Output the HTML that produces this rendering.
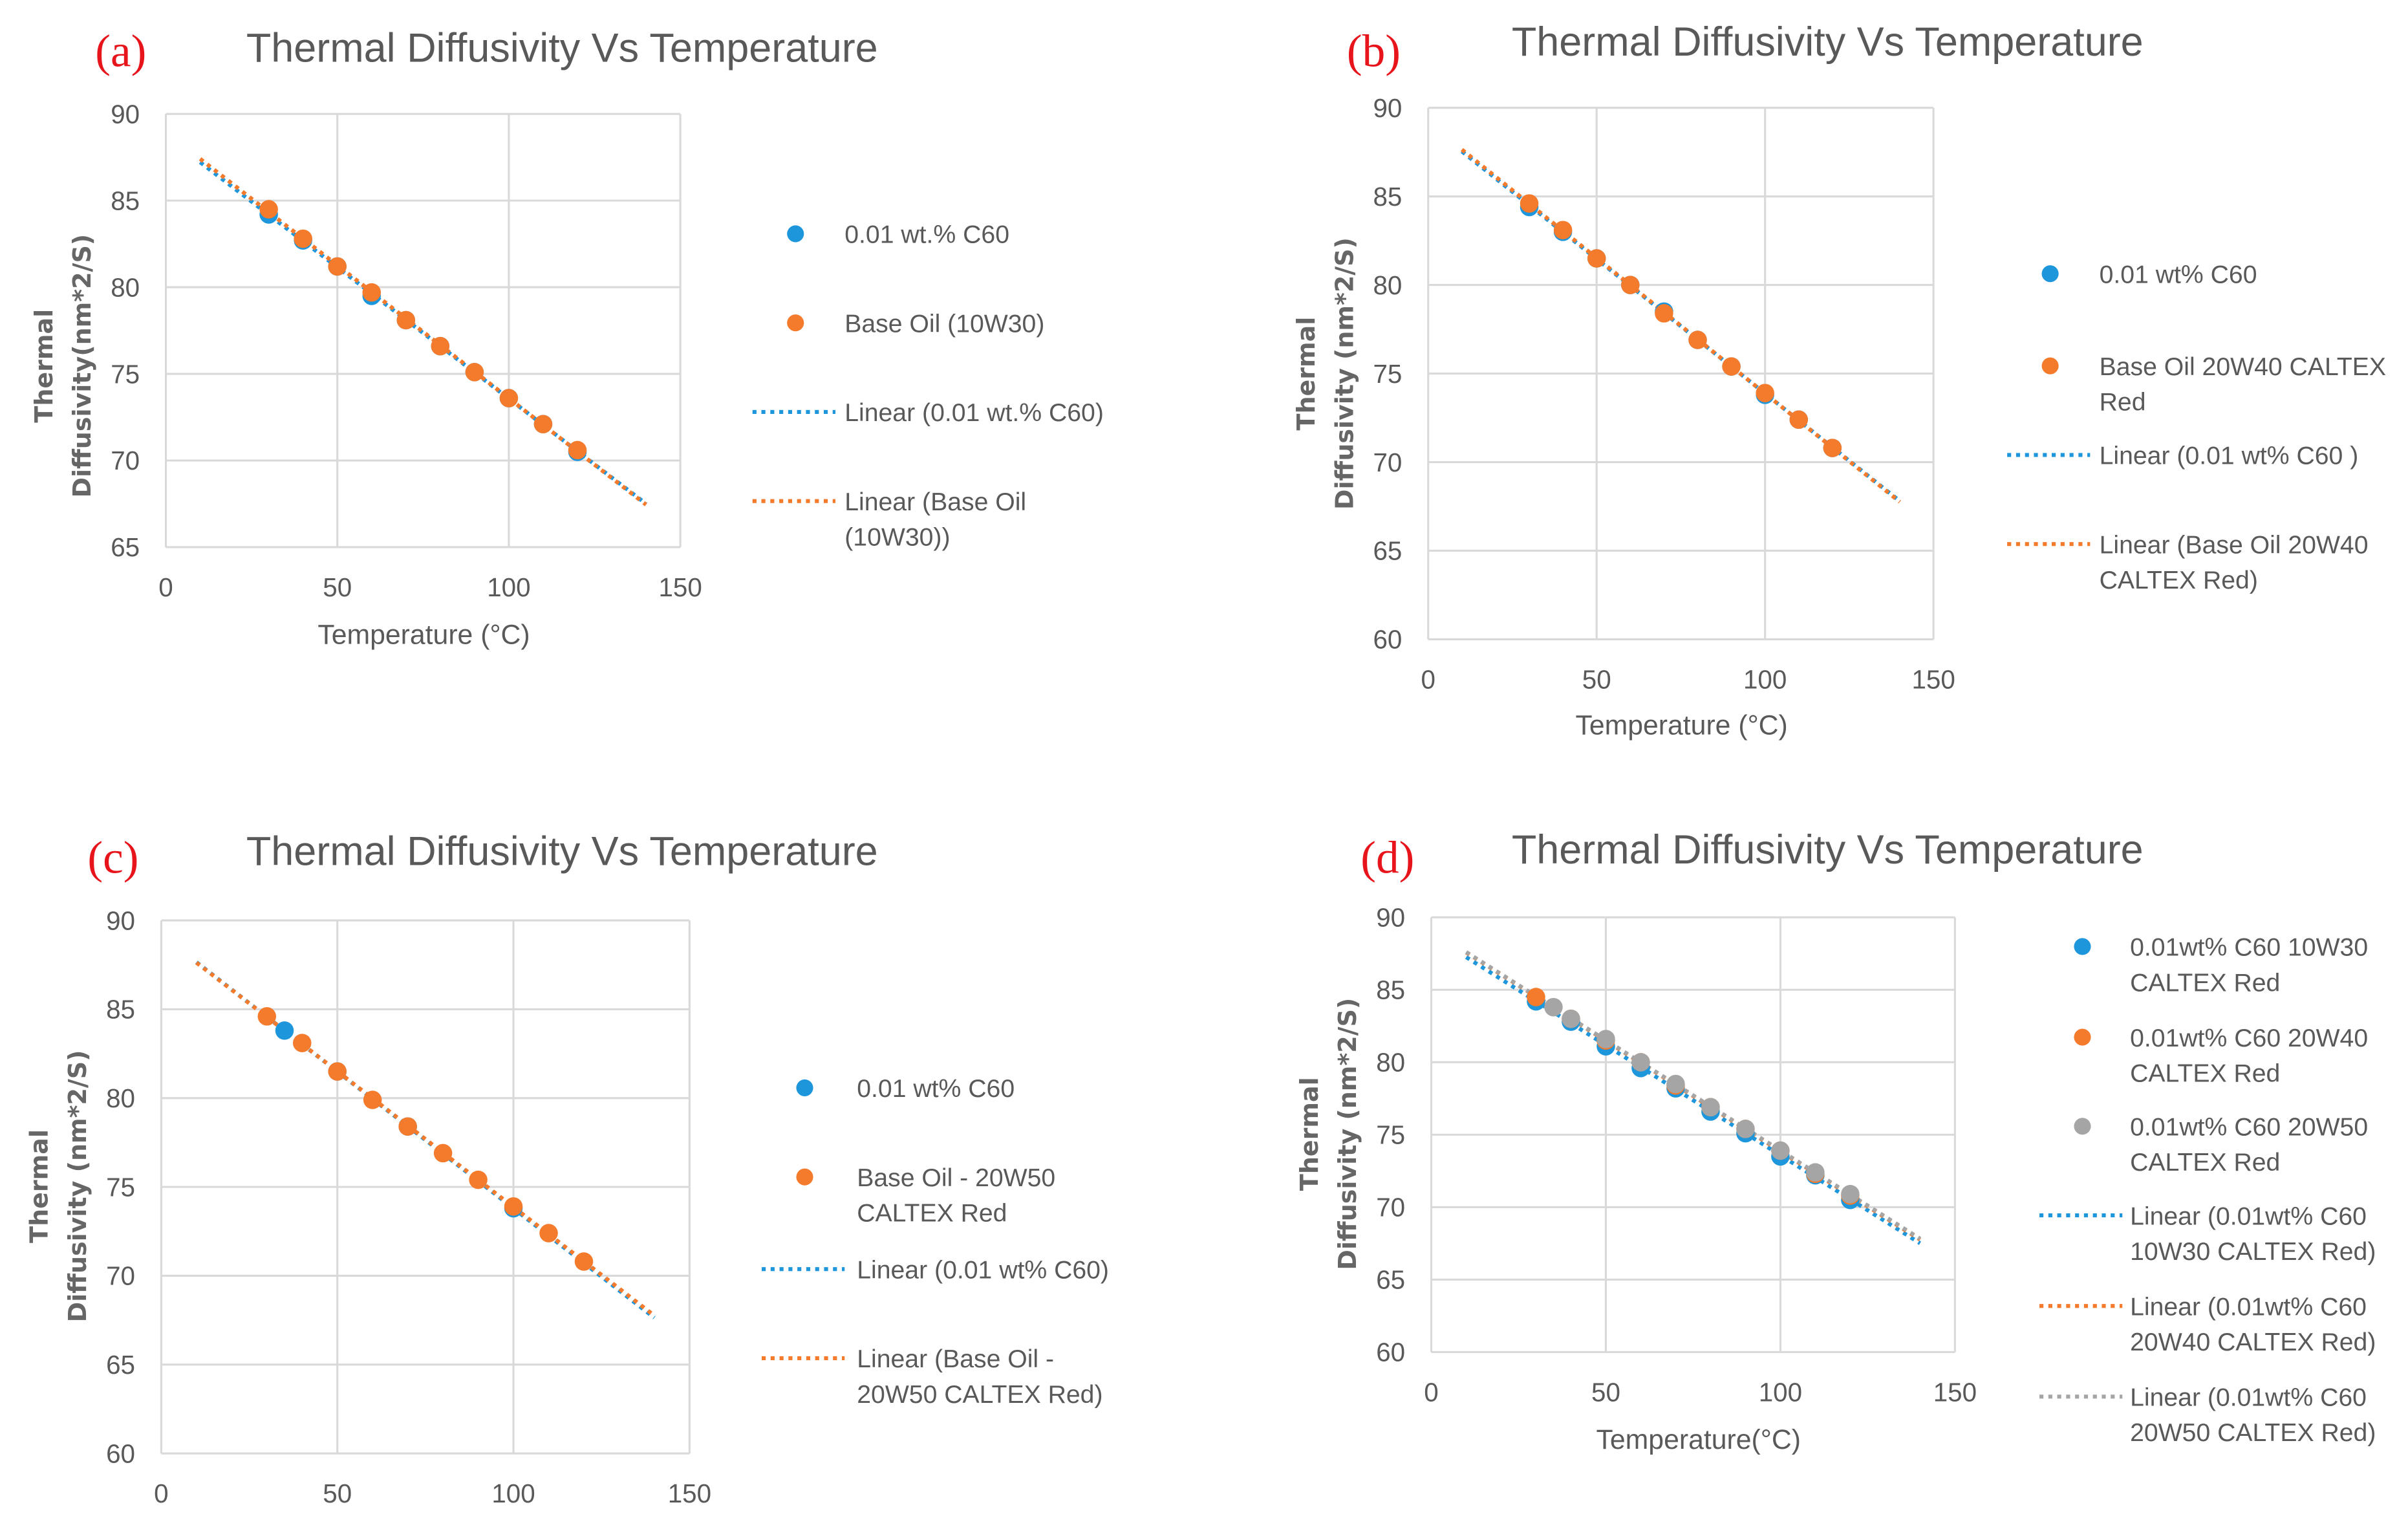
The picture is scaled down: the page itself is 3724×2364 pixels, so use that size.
<!DOCTYPE html>
<html><head><meta charset="utf-8">
<style>
html,body{margin:0;padding:0;background:#fff;}
svg{display:block;}
text{font-family:"Liberation Sans Narrow","Liberation Sans",sans-serif;fill:#595959;}
.tt{font-size:26.5px;}
.tk{font-size:17px;}
.xt{font-size:18px;}
.lg{font-size:16.5px;}
.yt{font-family:"DejaVu Sans","Liberation Sans",sans-serif;font-size:16px;font-weight:bold;fill:#666;}
.pl{font-family:"Liberation Serif",serif;font-size:30px;fill:#e8141b;}
</style></head>
<body>
<svg id="fig" width="3724" height="2364" viewBox="0 0 1568 995" xmlns="http://www.w3.org/2000/svg"></svg>
<script>
// ---- data ----
const xTicks = [0, 50, 100, 150];
const tempsA = [30, 40, 50, 60, 70, 80, 90, 100, 110, 120];
const blueA = [84.2, 82.7, 81.2, 79.5, 78.1, 76.6, 75.1, 73.6, 72.1, 70.5];
const orangeA = [84.5, 82.8, 81.2, 79.7, 78.1, 76.6, 75.1, 73.6, 72.1, 70.6];
const yTicksA = [65, 70, 75, 80, 85, 90];

const tempsB = [30, 40, 50, 60, 70, 80, 90, 100, 110, 120];
const blueB = [84.4, 83.0, 81.5, 80.0, 78.5, 76.9, 75.4, 73.8, 72.4, 70.8];
const orangeB = [84.6, 83.1, 81.5, 80.0, 78.4, 76.9, 75.4, 73.9, 72.4, 70.8];
const yTicksB = [60, 65, 70, 75, 80, 85, 90];

const tempsBlueC = [35, 50, 70, 100];
const blueC = [83.8, 81.5, 78.4, 73.8];
const tempsC = [30, 40, 50, 60, 70, 80, 90, 100, 110, 120];
const orangeC = [84.6, 83.1, 81.5, 79.9, 78.4, 76.9, 75.4, 73.9, 72.4, 70.8];
const yTicksC = [60, 65, 70, 75, 80, 85, 90];

const tempsD = [30, 40, 50, 60, 70, 80, 90, 100, 110, 120];
const blueD = [84.2, 82.8, 81.1, 79.6, 78.2, 76.6, 75.1, 73.5, 72.2, 70.5];
const orangeD = [84.5, 83.0, 81.5, 80.0, 78.4, 76.9, 75.4, 73.9, 72.3, 70.8];
const tempsGrayD = [35, 40, 50, 60, 70, 80, 90, 100, 110, 120];
const grayD = [83.8, 83.0, 81.6, 80.0, 78.5, 76.9, 75.4, 73.9, 72.4, 70.9];
const yTicksD = [60, 65, 70, 75, 80, 85, 90];

const BLUE = "#1e96dc", ORANGE = "#f47a2c", GRAY = "#a5a5a5";
const svg = document.getElementById("fig");
const NS = "http://www.w3.org/2000/svg";
function mk(tag, attrs, parent, txt) {
  const e = document.createElementNS(NS, tag);
  for (const k in attrs) e.setAttribute(k, attrs[k]);
  if (txt !== undefined) e.textContent = txt;
  (parent || svg).appendChild(e);
  return e;
}
function fit(xs, ys) {
  const n = xs.length; let sx = 0, sy = 0, sxx = 0, sxy = 0;
  for (let i = 0; i < n; i++) { sx += xs[i]; sy += ys[i]; sxx += xs[i] * xs[i]; sxy += xs[i] * ys[i]; }
  const m = (n * sxy - sx * sy) / (n * sxx - sx * sx);
  return [m, (sy - m * sx) / n];
}
function panel(p) {
  const g = mk("g", {});
  
  
  const yMin = p.yTicks[0], yMax = p.yTicks[p.yTicks.length - 1];
  const X = v => p.x0 + (v - 0) / 150 * (p.x1 - p.x0);
  const Y = v => p.y1 - (v - yMin) / (yMax - yMin) * (p.y1 - p.y0);
  const lab = mk("text", { x: p.lx, y: p.ly, class: "pl" }, g, "(" + p.id + ")");
  
  
  const t = mk("text", { x: p.tx, y: p.ty, class: "tt", "text-anchor": "middle" }, g, "Thermal Diffusivity Vs Temperature");
  
  
  for (const v of p.yTicks) {
    const l = mk("line", { x1: p.x0, x2: p.x1, y1: Y(v), y2: Y(v), stroke: "#d9d9d9", "stroke-width": 1.3 }, g);
    
    
    const tx = mk("text", { x: p.x0 - 17, y: Y(v) + 6, class: "tk", "text-anchor": "end" }, g, v);
    
    
  }
  for (const v of xTicks) {
    const l = mk("line", { x1: X(v), x2: X(v), y1: p.y0, y2: p.y1, stroke: "#d9d9d9", "stroke-width": 1.3 }, g);
    
    
    const tx = mk("text", { x: X(v), y: p.y1 + 32, class: "tk", "text-anchor": "middle" }, g, v);
    
    
  }
  if (p.xTitle) {
    const xt = mk("text", { x: p.xtx, y: p.xty, class: "xt", "text-anchor": "middle" }, g, p.xTitle);
    
    
  }
  const yt = mk("text", { transform: `translate(${p.ytx},${p.ytc}) rotate(-90)`, class: "yt", "text-anchor": "middle" }, g);
  
  
  mk("tspan", { x: 0, dy: 0 }, yt, "Thermal");
  mk("tspan", { x: 0, dy: 25 }, yt, p.yTitle2);
  for (const s of p.series) {
    const [m, b] = fit(s.xs, s.ys);
    const l = mk("line", { x1: X(10), y1: Y(m * 10 + b), x2: X(140), y2: Y(m * 140 + b), stroke: s.c, "stroke-width": 2.6, "stroke-dasharray": "2.6 3.2" }, g);
    
    
  }
  for (const s of p.series) {
    s.xs.forEach((xv, i) => {
      const c = mk("circle", { cx: X(xv), cy: Y(s.ys[i]), r: 6, fill: s.c }, g);
      
      
    });
  }
  p.legend.forEach(e => {
    const lg = mk("g", {}, g);
    
    
    if (e.kind === "dot") mk("circle", { cx: p.mx, cy: e.y, r: 5.5, fill: e.c }, lg);
    else mk("line", { x1: p.mx - 28, x2: p.mx + 26, y1: e.y, y2: e.y, stroke: e.c, "stroke-width": 2.6, "stroke-dasharray": "2.6 3.2" }, lg);
    e.lines.forEach((s, k) => mk("text", { x: p.lgx, y: e.y + 6 + k * 23, class: "lg" }, lg, s));
  });
}
panel({ id: "a", x0: 108, x1: 443, y0: 74, y1: 356, yTicks: yTicksA, lx: 62, ly: 43, tx: 366, ty: 40,
  xTitle: "Temperature (°C)", xtx: 276, xty: 419, ytx: 34, ytc: 238, yTitle2: "Diffusivity(nm*2/S)",
  series: [{ n: "blue", xs: tempsA, ys: blueA, c: BLUE }, { n: "orange", xs: tempsA, ys: orangeA, c: ORANGE }],
  mx: 518, lgx: 550, legend: [
    { kind: "dot", c: BLUE, y: 152, lines: ["0.01 wt.% C60"] },
    { kind: "dot", c: ORANGE, y: 210, lines: ["Base Oil (10W30)"] },
    { kind: "line", c: BLUE, y: 268, lines: ["Linear (0.01 wt.% C60)"] },
    { kind: "line", c: ORANGE, y: 326, lines: ["Linear (Base Oil", "(10W30))"] }] });
panel({ id: "b", x0: 930, x1: 1259, y0: 70, y1: 416, yTicks: yTicksB, lx: 877, ly: 43, tx: 1190, ty: 36,
  xTitle: "Temperature (°C)", xtx: 1095, xty: 478, ytx: 856, ytc: 243, yTitle2: "Diffusivity (nm*2/S)",
  series: [{ n: "blue", xs: tempsB, ys: blueB, c: BLUE }, { n: "orange", xs: tempsB, ys: orangeB, c: ORANGE }],
  mx: 1335, lgx: 1367, legend: [
    { kind: "dot", c: BLUE, y: 178, lines: ["0.01 wt% C60"] },
    { kind: "dot", c: ORANGE, y: 238, lines: ["Base Oil 20W40 CALTEX", "Red"] },
    { kind: "line", c: BLUE, y: 296, lines: ["Linear (0.01 wt% C60 )"] },
    { kind: "line", c: ORANGE, y: 354, lines: ["Linear (Base Oil 20W40", "CALTEX Red)"] }] });
panel({ id: "c", x0: 105, x1: 449, y0: 599, y1: 946, yTicks: yTicksC, lx: 57, ly: 568, tx: 366, ty: 563,
  xTitle: null, ytx: 31, ytc: 772, yTitle2: "Diffusivity (nm*2/S)",
  series: [{ n: "blue", xs: tempsBlueC, ys: blueC, c: BLUE }, { n: "orange", xs: tempsC, ys: orangeC, c: ORANGE }],
  mx: 524, lgx: 558, legend: [
    { kind: "dot", c: BLUE, y: 708, lines: ["0.01 wt% C60"] },
    { kind: "dot", c: ORANGE, y: 766, lines: ["Base Oil - 20W50", "CALTEX Red"] },
    { kind: "line", c: BLUE, y: 826, lines: ["Linear (0.01 wt% C60)"] },
    { kind: "line", c: ORANGE, y: 884, lines: ["Linear (Base Oil -", "20W50 CALTEX Red)"] }] });
panel({ id: "d", x0: 932, x1: 1273, y0: 597, y1: 880, yTicks: yTicksD, lx: 886, ly: 568, tx: 1190, ty: 562,
  xTitle: "Temperature(°C)", xtx: 1106, xty: 943, ytx: 858, ytc: 738, yTitle2: "Diffusivity (nm*2/S)",
  series: [{ n: "blue", xs: tempsD, ys: blueD, c: BLUE }, { n: "orange", xs: tempsD, ys: orangeD, c: ORANGE }, { n: "gray", xs: tempsGrayD, ys: grayD, c: GRAY }],
  mx: 1356, lgx: 1387, legend: [
    { kind: "dot", c: BLUE, y: 616, lines: ["0.01wt% C60 10W30", "CALTEX Red"] },
    { kind: "dot", c: ORANGE, y: 675, lines: ["0.01wt% C60 20W40", "CALTEX Red"] },
    { kind: "dot", c: GRAY, y: 733, lines: ["0.01wt% C60 20W50", "CALTEX Red"] },
    { kind: "line", c: BLUE, y: 791, lines: ["Linear (0.01wt% C60", "10W30 CALTEX Red)"] },
    { kind: "line", c: ORANGE, y: 850, lines: ["Linear (0.01wt% C60", "20W40 CALTEX Red)"] },
    { kind: "line", c: GRAY, y: 909, lines: ["Linear (0.01wt% C60", "20W50 CALTEX Red)"] }] });
</script>
</body></html>
